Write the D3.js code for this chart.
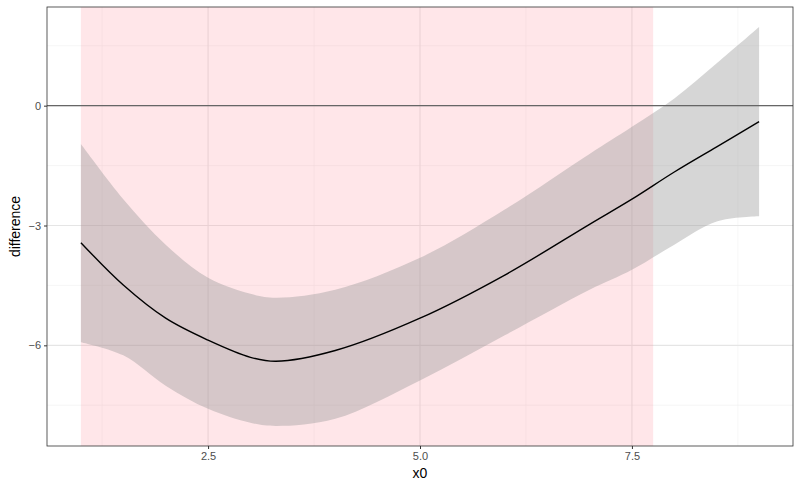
<!DOCTYPE html>
<html><head><meta charset="utf-8">
<script src="https://cdn.jsdelivr.net/npm/d3@7"></script>
<style>body{margin:0;background:#fff}text{font-family:"Liberation Sans",Arial,sans-serif}</style>
</head><body>
<script>
var xs    = [1, 1.5, 2, 2.5, 3, 3.3, 4, 5, 6, 7, 7.5, 8, 8.5, 9];
var fit   = [-3.43, -4.49, -5.32, -5.87, -6.30, -6.40, -6.13, -5.32, -4.24, -2.97, -2.34, -1.66, -1.03, -0.40];
var upper = [-0.96, -2.34, -3.48, -4.31, -4.71, -4.81, -4.61, -3.81, -2.60, -1.21, -0.53, 0.18, 1.06, 1.97];
var lower = [-5.92, -6.25, -7.01, -7.59, -7.94, -8.02, -7.84, -6.88, -5.75, -4.61, -4.11, -3.48, -2.90, -2.77];
var region = [1, 7.75];
var xTicks = [2.5, 5, 7.5], xMinor = [1.25, 3.75, 6.25, 8.75];
var yTicks = [-6, -3, 0], yMinor = [-7.5, -4.5, -1.5, 1.5];

var W = 800, H = 494, L = 47, R = 793, T = 7, B = 446;
var svg = d3.select("body").append("svg").attr("width", W).attr("height", H);
var x = d3.scaleLinear().domain([0.6, 9.4]).range([L, R]);
var y = d3.scaleLinear().domain([-8.52, 2.47]).range([B, T]);

var grid = svg.append("g");
xMinor.forEach(function(v){ grid.append("line").attr("x1", x(v)).attr("x2", x(v)).attr("y1", T).attr("y2", B).attr("stroke", "#f0f0f0").attr("stroke-width", 0.6); });
yMinor.forEach(function(v){ grid.append("line").attr("x1", L).attr("x2", R).attr("y1", y(v)).attr("y2", y(v)).attr("stroke", "#f0f0f0").attr("stroke-width", 0.6); });
xTicks.forEach(function(v){ grid.append("line").attr("x1", x(v)).attr("x2", x(v)).attr("y1", T).attr("y2", B).attr("stroke", "#e5e5e5").attr("stroke-width", 1.1); });
yTicks.forEach(function(v){ grid.append("line").attr("x1", L).attr("x2", R).attr("y1", y(v)).attr("y2", y(v)).attr("stroke", "#e5e5e5").attr("stroke-width", 1.1); });

svg.append("rect").attr("x", x(region[0])).attr("width", x(region[1]) - x(region[0]))
  .attr("y", T).attr("height", B - T).attr("fill", "#ff8c9a").attr("opacity", 0.22);

var pts = xs.map(function(v, i){ return {x: v, f: fit[i], u: upper[i], l: lower[i]}; });
var crv = d3.curveCatmullRom.alpha(0.5);
svg.append("path").datum(pts)
  .attr("d", d3.area().curve(crv).x(function(d){ return x(d.x); }).y0(function(d){ return y(d.l); }).y1(function(d){ return y(d.u); }))
  .attr("fill", "#999").attr("opacity", 0.4);

svg.append("line").attr("x1", L).attr("x2", R).attr("y1", y(0)).attr("y2", y(0)).attr("stroke", "#666").attr("stroke-width", 1.2);

svg.append("path").datum(pts)
  .attr("d", d3.line().curve(crv).x(function(d){ return x(d.x); }).y(function(d){ return y(d.f); }))
  .attr("fill", "none").attr("stroke", "#000").attr("stroke-width", 1.4);

svg.append("rect").attr("x", L).attr("y", T).attr("width", R - L).attr("height", B - T)
  .attr("fill", "none").attr("stroke", "#333").attr("stroke-width", 0.8);

var xa = svg.append("g").attr("transform", "translate(0," + B + ")")
  .call(d3.axisBottom(x).tickValues(xTicks).tickFormat(d3.format(".1f")).tickSize(3).tickPadding(3));
var ya = svg.append("g").attr("transform", "translate(" + L + ",0)")
  .call(d3.axisLeft(y).tickValues(yTicks).tickFormat(d3.format("d")).tickSize(3).tickPadding(3));
[xa, ya].forEach(function(a){
  a.select(".domain").remove();
  a.selectAll("line").attr("stroke", "#333");
  a.selectAll("text").attr("fill", "#4d4d4d").style("font-size", "11px");
});

svg.append("text").attr("x", (L + R) / 2).attr("y", 478).attr("text-anchor", "middle").style("font-size", "14px").attr("fill", "#000").text("x0");
svg.append("text").attr("transform", "translate(20," + (T + B) / 2 + ") rotate(-90)").attr("text-anchor", "middle").style("font-size", "14px").attr("fill", "#000").text("difference");
</script>
</body></html>
